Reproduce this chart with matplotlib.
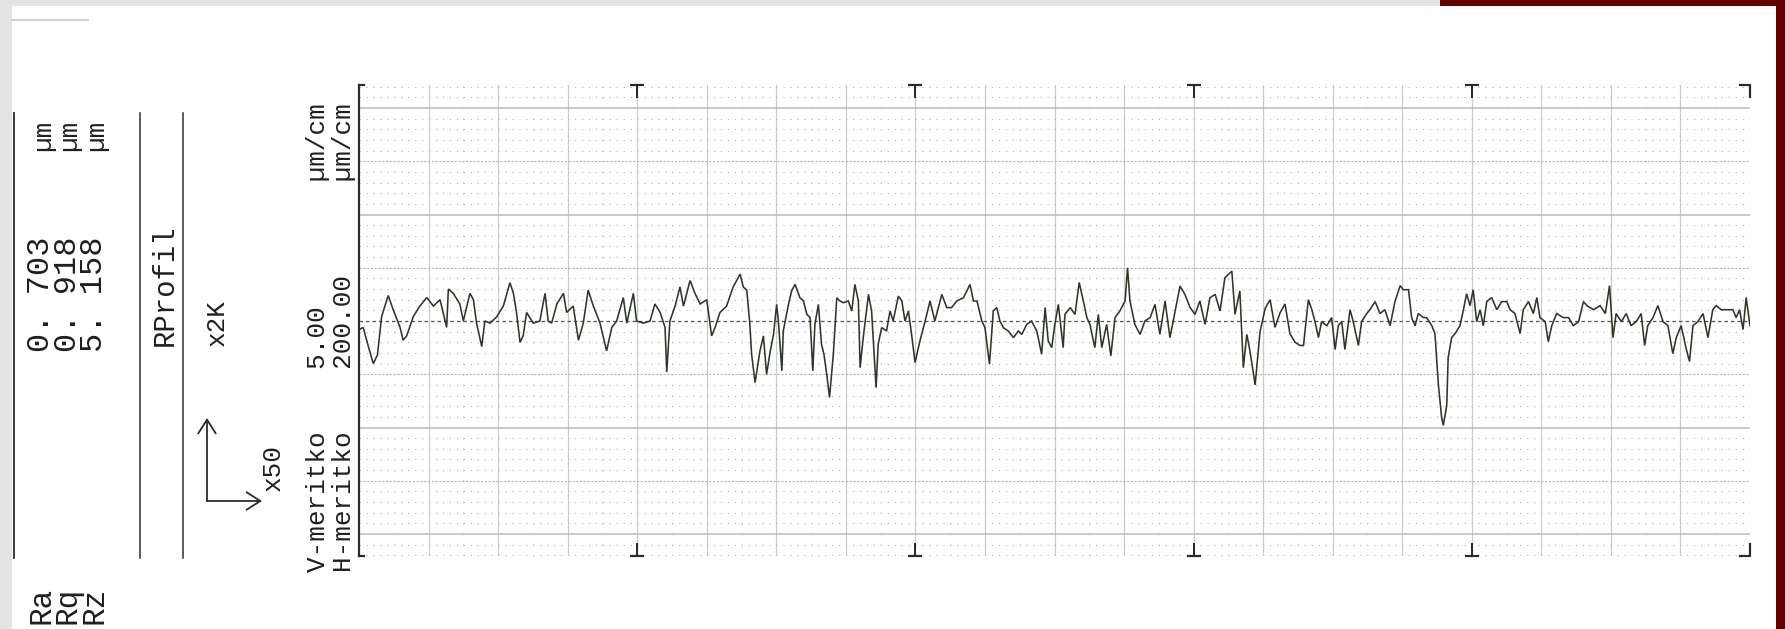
import matplotlib
matplotlib.use("Agg")
import matplotlib.pyplot as plt
import matplotlib.transforms as mtransforms
from matplotlib.patches import Rectangle, FancyArrowPatch
from matplotlib.lines import Line2D

W, H, DPI = 1785, 629, 100
plt.rcParams['lines.scale_dashes'] = False

# ---------------- data ----------------
param_names = ["Ra", "Rq", "Rz"]
param_values = ["0. 703", "0. 918", "5. 158"]
param_unit = "µm"
profile_label = "RProfil"
h_mag_label = "x2K"
v_mag_label = "x50"
scale_names = ["V-meritko", "H-meritko"]
scale_values = ["5.00", "200.00"]
scale_unit = "µm/cm"

eval_length_mm = 4.0
h_div_mm = 0.2          # 200 µm per division
v_div_um = 5.0          # 5 µm per division
cutoff_marks_mm = [0.8, 1.6, 2.4, 3.2]

profile_x_mm = [
    0.001, 0.012, 0.027, 0.041, 0.053, 0.065, 0.084, 0.099, 0.118, 0.127,
    0.137, 0.156, 0.175, 0.195, 0.214, 0.233, 0.252, 0.257, 0.271, 0.290,
    0.300, 0.319, 0.329, 0.338, 0.353, 0.362, 0.377, 0.396, 0.415, 0.434,
    0.444, 0.453, 0.463, 0.472, 0.482, 0.501, 0.520, 0.535, 0.544, 0.554,
    0.569, 0.588, 0.597, 0.616, 0.631, 0.645, 0.659, 0.674, 0.693, 0.712,
    0.727, 0.741, 0.760, 0.770, 0.789, 0.798, 0.818, 0.837, 0.851, 0.866,
    0.880, 0.885, 0.894, 0.909, 0.923, 0.933, 0.952, 0.966, 0.981, 1.000,
    1.014, 1.024, 1.038, 1.057, 1.076, 1.096, 1.105, 1.115,
    1.124, 1.129, 1.139, 1.153, 1.163, 1.172, 1.182, 1.192, 1.201, 1.206,
    1.216, 1.220, 1.235, 1.244, 1.254, 1.268, 1.278, 1.288, 1.297, 1.305,
    1.311, 1.321, 1.330, 1.337, 1.345, 1.353, 1.364, 1.374, 1.383, 1.393,
    1.407, 1.417, 1.426, 1.436, 1.441, 1.450, 1.465, 1.474, 1.487, 1.493,
    1.503, 1.517, 1.527, 1.536, 1.551, 1.561, 1.570, 1.580, 1.589, 1.599,
    1.613, 1.628, 1.642, 1.656, 1.676, 1.690, 1.704, 1.719, 1.738, 1.748,
    1.757, 1.767, 1.777, 1.791, 1.800, 1.813, 1.824, 1.834, 1.843, 1.853,
    1.867, 1.882, 1.896, 1.906, 1.920, 1.934, 1.949, 1.963, 1.973, 1.982,
    1.992, 2.001, 2.011, 2.025, 2.030, 2.045, 2.059, 2.071, 2.083, 2.093,
    2.102, 2.116, 2.126, 2.136, 2.150, 2.162, 2.174, 2.188, 2.203, 2.210,
    2.217, 2.231, 2.246, 2.260, 2.275, 2.289, 2.303, 2.318, 2.332, 2.347,
    2.361, 2.375, 2.390, 2.404, 2.418, 2.433, 2.447, 2.462, 2.476, 2.490,
    2.510, 2.519, 2.533, 2.543, 2.553, 2.562,
    2.577, 2.591, 2.606, 2.620, 2.634, 2.649, 2.663, 2.677, 2.692,
    2.706, 2.716, 2.730, 2.740, 2.749, 2.759, 2.768, 2.783, 2.797, 2.807,
    2.816, 2.826, 2.835, 2.850, 2.859, 2.874, 2.883, 2.898, 2.907, 2.922,
    2.936, 2.950, 2.965, 2.979, 2.994, 3.003, 3.018, 3.027, 3.037, 3.046,
    3.061, 3.070, 3.085, 3.094, 3.104, 3.113, 3.118, 3.128, 3.132, 3.142,
    3.152, 3.166, 3.176, 3.185, 3.195, 3.204, 3.214, 3.224, 3.233, 3.243,
    3.257, 3.272, 3.286, 3.301, 3.310, 3.324, 3.339, 3.348, 3.363, 3.377,
    3.387, 3.396, 3.411, 3.420, 3.430, 3.444, 3.463, 3.478, 3.492, 3.507,
    3.521, 3.531, 3.550, 3.569, 3.584, 3.596, 3.606, 3.615, 3.630, 3.644,
    3.658, 3.673, 3.687, 3.697, 3.706, 3.721, 3.735, 3.750, 3.764, 3.778,
    3.788, 3.802, 3.817, 3.826, 3.836, 3.850, 3.865, 3.879, 3.893, 3.903,
    3.917, 3.936, 3.951, 3.960, 3.970, 3.980, 3.989, 4.000,
]
profile_um = [
    -0.4, -0.3, -1.2, -2.0, -1.6, 0.2, 1.2, 0.5, -0.3, -0.9,
    -0.7, 0.2, 0.7, 1.1, 0.7, 1.0, -0.3, 1.5, 1.3, 0.8,
    0.0, 1.3, 1.0, -0.1, -1.2, 0.0, -0.1, 0.2, 0.7, 1.8,
    1.3, 0.4, -1.0, -0.7, 0.4, -0.1, 0.0, 1.3, 0.0, -0.1,
    0.8, 1.3, 0.4, 0.7, -0.9, -0.1, 1.45, 0.7, -0.1, -1.4,
    -0.3, 0.0, 1.1, -0.1, 1.3, 0.0, -0.1, 0.0, 0.8, 0.4,
    -0.3, -2.4, 0.0, 0.7, 1.6, 0.7, 1.9, 1.3, 0.8, 1.0,
    -0.7, -0.3, 0.4, 0.7, 1.6, 2.2, 1.6, 1.45,
    -0.16, -1.56, -2.89, -1.41, -0.70, -2.50, -1.48, -0.63, 0.78, 0.0,
    -2.34, -0.47, 0.78, 1.41, 1.72, 1.09, 0.94, 0.31, 0.16, -2.34,
    -0.16, 0.78, -1.09, -1.56, -2.5, -3.59, -1.56, 1.09, 0.94, 0.86,
    0.94, 0.47, 1.72, 0.94, -2.19, -0.78, 1.25, 0.47, -3.13, -1.09,
    -0.31, -0.47, 0.47, 0.0, 1.17, 0.94, 0.0, 0.47, -0.63, -1.95,
    -0.94, 0.0, 0.94, 0.0, 1.25, 0.63, 0.63, 0.94, 1.09, 1.41,
    1.72, 0.94, 0.94, 0.0, -0.31, -2.03, 0.47, 0.63, 0.0, -0.31,
    -0.47, -0.78, -0.47, -0.63, -0.16, 0.0, -0.47, -1.56, 0.63, -0.94,
    -1.25, -0.16, 0.78, -1.25, 0.31, 0.63, 0.31, 1.81, 0.94, 0.16,
    -0.16, -1.25, 0.31, -1.25, -0.16, -1.64, 0.16, 0.47, 0.94, 2.5,
    0.94, -0.16, -0.63, 0.0, 0.16, 0.78, -0.63, 0.94, -0.78, 0.47,
    1.64, 1.25, 0.63, 0.31, 0.94, -0.16, 1.09, 1.25, 0.47, 2.03,
    2.34, 0.31, 1.41, -2.19, -0.63, -1.4,
    -3.0, -0.5, 0.6, 1.0, -0.3, 0.4, 0.8, -0.6, -1.0,
    -1.15, -1.15, 1.00, 0.53, -0.03, -0.78, -0.03, -0.22, 0.16, -1.34,
    -0.22, -0.03, -1.34, 0.53, -0.03, -1.15, -0.03, 0.35, 0.53, 0.91,
    0.35, 0.53, -0.22, 0.91, 1.66, 1.47, 1.47, 0.16, -0.22, 0.35,
    0.16, 0.16, -0.22, -0.59, -3.0, -4.5, -4.9, -3.96, -1.72, -0.78,
    -0.59, -0.22, 0.53, 1.28, 0.72, 1.47, -0.03, 0.53, -0.22, 0.91,
    1.10, 0.53, 0.91, 0.91, 0.53, 0.35, -0.59, 0.53, 0.91, 0.35,
    1.10, 0.16, -0.03, -0.97, -0.22, 0.35, 0.16, 0.16, -0.22, -0.03,
    0.91, 0.72, 0.53, 0.72, 0.35, 1.66, -0.78, 0.35, -0.03, 0.35,
    -0.22, -0.03, 0.35, -1.15, -0.22, 0.16, 0.72, -0.03, -0.22, -1.53,
    -0.78, -0.22, -1.34, -1.90, -0.22, -0.03, 0.35, -0.78, 0.53, 0.72,
    0.53, 0.53, 0.53, 0.16, 0.53, -0.40, 1.10, -0.22,
]

# ---------------- helpers ----------------
def fx(px):
    return px / W

def fy(py):
    return 1 - py / H

def pt(px):
    return px * 72.0 / DPI

MONO = ['Liberation Mono', 'DejaVu Sans Mono']
INK = '#1f1f1f'

fig = plt.figure(figsize=(W / DPI, H / DPI), dpi=DPI)
fig.patch.set_facecolor('white')

# scanned page surroundings
fig.add_artist(Rectangle((0, 0), fx(12), 1, transform=fig.transFigure,
                         color='#e3e3e3', lw=0, zorder=0))
fig.add_artist(Rectangle((0, fy(6)), fx(1440), 1 - fy(6), transform=fig.transFigure,
                         color='#e3e3e3', lw=0, zorder=0))
fig.add_artist(Rectangle((fx(1440), fy(6)), 1 - fx(1440), 1 - fy(6),
                         transform=fig.transFigure, color='#640000', lw=0, zorder=0))
fig.add_artist(Rectangle((fx(1776), 0), 1 - fx(1776), 1, transform=fig.transFigure,
                         color='#640000', lw=0, zorder=0))
fig.add_artist(Line2D([fx(12), fx(88)], [fy(20), fy(20)], transform=fig.transFigure,
                      color='#d2d2d2', lw=pt(2)))

# left panel separator lines
for xl, lw in ((14, 1.8), (140, 1.5), (183, 1.5)):
    fig.add_artist(Line2D([fx(xl), fx(xl)], [fy(113), fy(558)], transform=fig.transFigure,
                          color='#2a2a2a', lw=pt(lw)))


def vtext(x, y, s, em_px, ha='left', linespacing=1.2):
    fig.text(fx(x), fy(y), s, rotation=90, rotation_mode='anchor', ha=ha, va='center',
             fontsize=pt(em_px), family=MONO, color=INK, linespacing=linespacing)


col_x = [41, 67.5, 94]
for cx, name, val in zip(col_x, param_names, param_values):
    vtext(cx, 624, name, 31)
    vtext(cx, 352, val, 32)
    vtext(cx + 2, 120, param_unit, 26, ha='right')

vtext(165, 285, profile_label, 29, ha='center')
vtext(217, 323, h_mag_label, 26, ha='center')
vtext(273, 468, v_mag_label, 26, ha='center')

# both scale lines as one two-line text block (printer-style fixed columns)
scale_block = "\n".join(
    f"{name}    {val:<6}      {scale_unit}" for name, val in zip(scale_names, scale_values)
)
vtext(331, 572, scale_block, 26, linespacing=1.08)

# magnification arrows
for end in ((207, 418), (262, 501)):
    fig.add_artist(FancyArrowPatch(posA=(fx(207), fy(501)), posB=(fx(end[0]), fy(end[1])),
                                   transform=fig.transFigure,
                                   arrowstyle='->,head_length=0.55,head_width=0.35',
                                   mutation_scale=18, lw=pt(1.8), color='#2a2a2a',
                                   shrinkA=0, shrinkB=0))

# ---------------- chart ----------------
ax_l, ax_r, ax_t, ax_b = 359, 1750, 85, 556
ax = fig.add_axes([fx(ax_l), fy(ax_b), fx(ax_r - ax_l), (ax_b - ax_t) / H])
y_center_px = 321
px_per_um = 106.5 / v_div_um
ymin = -(ax_b - y_center_px) / px_per_um
ymax = (y_center_px - ax_t) / px_per_um
ax.set_xlim(0, eval_length_mm)
ax.set_ylim(ymin, ymax)
ax.set_facecolor('none')
ax.set_xticks([])
ax.set_yticks([])
for s in ('top', 'right', 'bottom'):
    ax.spines[s].set_visible(False)
ax.spines['left'].set_color('#2a2a2a')
ax.spines['left'].set_linewidth(pt(2.2))

n_h = int(round(eval_length_mm / h_div_mm))
# vertical grid
for i in range(1, n_h):
    ax.axvline(i * h_div_mm, color='#cbcbcb', lw=pt(1.2), zorder=1)
for i in range(n_h):
    ax.axvline((i + 0.5) * h_div_mm, color='#c2c2c2', lw=pt(1.0),
               linestyle=(0, (pt(1.4), pt(9.25))), zorder=1)
# horizontal grid
step = v_div_um / 10
k_max = int(ymax / step)
for k in range(-k_max, k_max + 1):
    yv = k * step
    if k == 0:
        continue
    if k % 10 == 0:
        ax.axhline(yv, color='#b9b9b9', lw=pt(1.5), zorder=1)
    elif k % 5 == 0:
        ax.axhline(yv, color='#b3b3b3', lw=pt(1.1), linestyle=(0, (pt(2.2), pt(1.6))), zorder=1)
    else:
        ax.axhline(yv, color='#bdbdbd', lw=pt(1.2), linestyle=(0, (pt(1.3), pt(5.65))), zorder=1)
ax.axhline(0, color='#5a5a5a', lw=pt(1.3), linestyle=(0, (pt(3.5), pt(3))), zorder=2)

# frame marks (brackets and cut-off markers)
bt = mtransforms.blended_transform_factory(ax.transData, ax.transAxes)
mm_per_px = eval_length_mm / (ax_r - ax_l)
stem = 12 / (ax_b - ax_t)
half_bar = 7 * mm_per_px
for xm in cutoff_marks_mm:
    ax.plot([xm - half_bar, xm + half_bar], [1, 1], transform=bt, color='#2a2a2a',
            lw=pt(2.2), clip_on=False, solid_capstyle='butt')
    ax.plot([xm, xm], [1, 1 - stem], transform=bt, color='#2a2a2a', lw=pt(2), clip_on=False)
    ax.plot([xm - half_bar, xm + half_bar], [0, 0], transform=bt, color='#2a2a2a',
            lw=pt(2.2), clip_on=False, solid_capstyle='butt')
    ax.plot([xm, xm], [0, stem], transform=bt, color='#2a2a2a', lw=pt(2), clip_on=False)
foot = 5 * mm_per_px
ax.plot([0, foot], [1, 1], transform=bt, color='#2a2a2a', lw=pt(2.2), clip_on=False)
ax.plot([0, foot], [0, 0], transform=bt, color='#2a2a2a', lw=pt(2.2), clip_on=False)
xe = eval_length_mm
ax.plot([xe - 2 * foot, xe, xe], [1, 1, 1 - stem], transform=bt, color='#2a2a2a',
        lw=pt(2.2), clip_on=False)
ax.plot([xe - 2 * foot, xe, xe], [0, 0, stem], transform=bt, color='#2a2a2a',
        lw=pt(2.2), clip_on=False)

# roughness profile
ax.plot(profile_x_mm, profile_um, color='#2f372b', lw=pt(1.6), zorder=5,
        solid_joinstyle='miter')

fig.savefig('out.png', dpi=DPI, facecolor=fig.get_facecolor())
